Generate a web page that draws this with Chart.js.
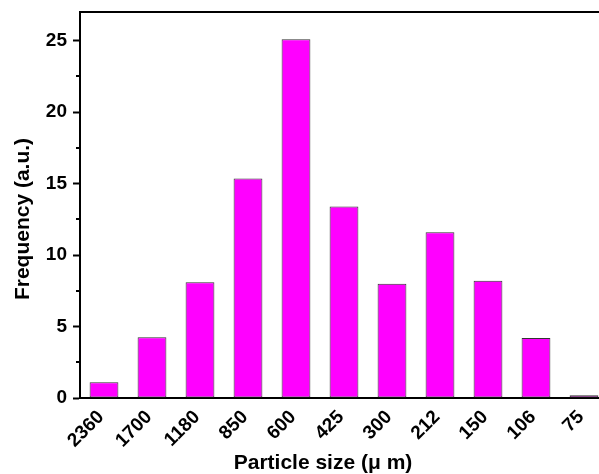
<!DOCTYPE html>
<html>
<head>
<meta charset="utf-8">
<script src="https://cdn.jsdelivr.net/npm/chart.js@4.4.1/dist/chart.umd.min.js"></script>
<style>
  html, body { margin: 0; padding: 0; background: #fff; overflow: hidden; }
  canvas { display: block; }
</style>
</head>
<body>
<canvas id="sizeChart" width="620" height="474"></canvas>
<script>
// sieve sizes (um) and frequency
const sizes = ["2360", "1700", "1180", "850", "600", "425", "300", "212", "150", "106", "75"];
const frequency = [1.1, 4.25, 8.1, 15.35, 25.1, 13.4, 8.0, 11.6, 8.2, 4.2, 0.2];
const minorTicks = [2.5, 7.5, 12.5, 17.5, 22.5];

const FONT = "'Liberation Sans', Arial, sans-serif";

// top frame line, minor y ticks, axis titles
const decorations = {
  id: "decorations",
  afterDraw(chart) {
    const c = chart.ctx;
    const area = chart.chartArea;
    const y = chart.scales.y;
    c.save();
    c.strokeStyle = "#000";
    c.lineWidth = 2;
    c.beginPath();
    c.moveTo(area.left - 1, area.top);
    c.lineTo(area.right, area.top);
    c.stroke();
    minorTicks.forEach(function(v) {
      const py = Math.round(y.getPixelForValue(v));
      c.beginPath();
      c.moveTo(area.left - 4, py);
      c.lineTo(area.left, py);
      c.stroke();
    });
    c.fillStyle = "#000";
    c.font = "bold 21px " + FONT;
    c.textAlign = "center";
    c.textBaseline = "alphabetic";
    c.fillText("Particle size (\u03bc m)", 323, 469);
    c.translate(29, 219);
    c.rotate(-Math.PI / 2);
    c.fillText("Frequency (a.u.)", 0, 0);
    c.restore();
  }
};

document.addEventListener("DOMContentLoaded", function() {
  const ctx = document.getElementById("sizeChart").getContext("2d");
  new Chart(ctx, {
    type: "bar",
    data: {
      labels: sizes,
      datasets: [{
        data: frequency,
        backgroundColor: "#ff00ff",
        borderColor: "#333333",
        borderWidth: 1,
        borderSkipped: false,
        barPercentage: 0.6,
        categoryPercentage: 1.0
      }]
    },
    options: {
      responsive: false,
      animation: false,
      layout: { padding: { top: 12, right: 12, left: 0, bottom: 0 } },
      plugins: {
        legend: { display: false },
        tooltip: { enabled: false }
      },
      scales: {
        x: {
          afterFit: function(scale) {
            scale.height = 76;
            scale.paddingLeft = 0;
            scale.paddingRight = 0;
          },
          grid: { display: false, drawTicks: false },
          border: { display: true, color: "#000", width: 2 },
          ticks: {
            color: "#000",
            font: { family: FONT, size: 19, weight: "bold" },
            minRotation: 45,
            maxRotation: 45,
            padding: 8,
            labelOffset: -3,
            autoSkip: false
          }
        },
        y: {
          min: 0,
          max: 27,
          afterFit: function(scale) {
            scale.width = 80;
            scale.paddingTop = 0;
            scale.paddingBottom = 0;
          },
          grid: {
            drawOnChartArea: false,
            drawTicks: true,
            tickLength: 7,
            tickWidth: 2,
            tickColor: "#000"
          },
          border: { display: true, color: "#000", width: 2 },
          ticks: {
            stepSize: 5,
            includeBounds: false,
            color: "#000",
            font: { family: FONT, size: 19, weight: "bold" },
            padding: 6
          }
        }
      }
    },
    plugins: [decorations]
  });
});
</script>
</body>
</html>
